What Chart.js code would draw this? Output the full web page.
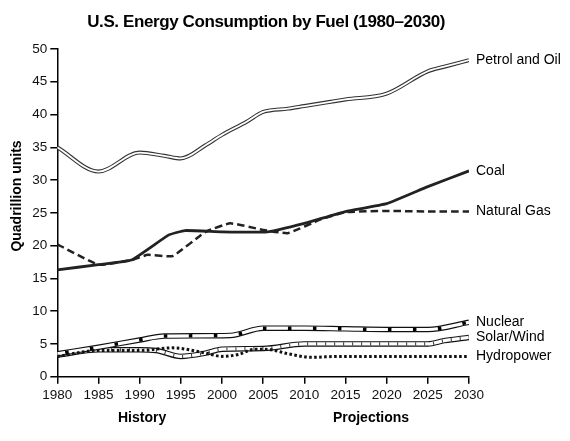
<!DOCTYPE html>
<html>
<head>
<meta charset="utf-8">
<script src="https://cdn.jsdelivr.net/npm/chart.js@4"></script>
<style>
  html, body { margin: 0; padding: 0; background: #fff; }
  canvas { display: block; }
</style>
</head>
<body>
<canvas id="c" width="570" height="441"></canvas>
<script>
// ---- Data (quadrillion units) ----
const petrolYears  = [1980, 1985, 1990, 1993, 1995, 1998, 2000, 2003, 2005, 2008, 2010, 2013, 2015, 2020, 2025, 2027, 2030];
const petrolValues = [35.0, 31.3, 34.2, 33.7, 33.3, 35.3, 36.9, 38.9, 40.4, 40.9, 41.3, 41.9, 42.3, 43.2, 46.6, 47.3, 48.3];

const coalYears  = [1980, 1985, 1989, 1993.5, 1995.5, 2000, 2005.5, 2010, 2015, 2020, 2025, 2030];
const coalValues = [16.3, 17.1, 17.8, 21.6, 22.3, 22.1, 22.1, 23.4, 25.2, 26.4, 29.0, 31.4];

const gasYears  = [1980, 1985, 1989, 1991, 1994, 1998, 2001, 2005, 2008, 2012, 2015, 2020, 2025, 2030];
const gasValues = [20.2, 17.1, 17.8, 18.6, 18.4, 22.1, 23.4, 22.4, 21.9, 24.0, 25.1, 25.3, 25.2, 25.2];

const nuclearYears  = [1980, 1985, 1990, 1993, 2001, 2005, 2010, 2015, 2020, 2025, 2030];
const nuclearValues = [3.5, 4.5, 5.6, 6.2, 6.3, 7.4, 7.4, 7.3, 7.2, 7.2, 8.3];

const solarYears  = [1980, 1985, 1990, 1992, 1995, 1998, 2000, 2005, 2010, 2015, 2020, 2025, 2027, 2030];
const solarValues = [3.3, 4.1, 4.1, 4.0, 3.1, 3.6, 4.2, 4.3, 5.0, 5.0, 5.0, 5.0, 5.5, 6.0];

const hydroYears  = [1980, 1985, 1990, 1994, 1998, 2000, 2002, 2004, 2006, 2008, 2011, 2014, 2030];
const hydroValues = [3.1, 4.0, 4.0, 4.4, 3.6, 3.1, 3.4, 4.2, 4.1, 3.5, 2.95, 3.1, 3.1];

const xTicks = [1980, 1985, 1990, 1995, 2000, 2005, 2010, 2015, 2020, 2025, 2030];
const yTicks = [0, 5, 10, 15, 20, 25, 30, 35, 40, 45, 50];

const seriesLabels = ["Petrol and Oil", "Coal", "Natural Gas", "Nuclear", "Solar/Wind", "Hydropower"];
const titleText = "U.S. Energy Consumption by Fuel (1980\u20132030)";
const yTitle = "Quadrillion units";
const periodLabels = ["History", "Projections"];

// ---- helpers ----
const pts = (xs, ys) => xs.map((x, i) => ({ x, y: ys[i] }));
const base = { pointRadius: 0, pointHoverRadius: 0, fill: false, cubicInterpolationMode: 'monotone', borderCapStyle: 'butt', borderJoinStyle: 'round' };
const ds = (label, xs, ys, extra) => Object.assign({ label, data: pts(xs, ys) }, base, extra);
const linear = { cubicInterpolationMode: 'default', tension: 0.12 };

const FONT = '"Liberation Sans", Arial, Helvetica, sans-serif';

const datasets = [
  ds('Solar/Wind', solarYears, solarValues, { borderColor: '#111', borderWidth: 5.5, order: 100 }),
  ds('Solar/Wind inner', solarYears, solarValues, { borderColor: '#fff', borderWidth: 3.2, order: 99 }),
  ds('Solar/Wind hatch', solarYears, solarValues, { borderColor: '#333', borderWidth: 3.2, borderDash: [1, 8], order: 98 }),
  ds('Nuclear', nuclearYears, nuclearValues, { borderColor: '#111', borderWidth: 5.5, order: 97 }),
  ds('Nuclear inner', nuclearYears, nuclearValues, { borderColor: '#fff', borderWidth: 3.2, order: 96 }),
  ds('Nuclear squares', nuclearYears, nuclearValues, { borderColor: '#000', borderWidth: 3.4, borderDash: [3.5, 21.5], borderDashOffset: -8, order: 95 }),
  ds('Hydropower', hydroYears, hydroValues, { borderColor: '#111', borderWidth: 3, borderDash: [2.6, 2.4], order: 94 }),
  ds('Natural Gas', gasYears, gasValues, Object.assign({ borderColor: '#222', borderWidth: 2.5, borderDash: [7.5, 4], order: 93 }, linear)),
  ds('Coal', coalYears, coalValues, Object.assign({ borderColor: '#222', borderWidth: 2.8, order: 92 }, linear)),
  ds('Petrol and Oil', petrolYears, petrolValues, { borderColor: '#333', borderWidth: 4, order: 91 }),
  ds('Petrol inner', petrolYears, petrolValues, { borderColor: '#fff', borderWidth: 1.8, order: 90 })
];

const lastVals = [petrolValues, coalValues, gasValues, nuclearValues, solarValues, hydroValues].map(a => a[a.length - 1]);

const textPlugin = {
  id: 'texts',
  afterDraw(chart) {
    const ctx = chart.ctx;
    const { x, y } = chart.scales;
    const area = chart.chartArea;
    ctx.save();
    ctx.fillStyle = '#000';
    // Title
    ctx.font = 'bold 17px ' + FONT;
    ctx.textAlign = 'center';
    ctx.textBaseline = 'alphabetic';
    try { ctx.letterSpacing = '-0.4px'; } catch (e) {}
    ctx.fillText(titleText, (area.left + area.right) / 2 + 3, 27);
    try { ctx.letterSpacing = '0px'; } catch (e) {}
    // Series labels
    ctx.font = '14px ' + FONT;
    ctx.textAlign = 'left';
    ctx.textBaseline = 'middle';
    seriesLabels.forEach((lab, i) => {
      ctx.fillText(lab, area.right + 7, y.getPixelForValue(lastVals[i]));
    });
    // Period labels
    ctx.font = 'bold 14px ' + FONT;
    ctx.textAlign = 'center';
    ctx.textBaseline = 'alphabetic';
    ctx.fillText(periodLabels[0], x.getPixelForValue(1990.3), 422);
    ctx.fillText(periodLabels[1], x.getPixelForValue(2018.1), 422);
    // Y title
    ctx.translate(17.5, 196);
    ctx.rotate(-Math.PI / 2);
    ctx.textBaseline = 'middle';
    ctx.fillText(yTitle, 0, 0);
    ctx.restore();
  }
};

const bgPlugin = {
  id: 'bg',
  beforeDraw(chart) {
    const ctx = chart.ctx;
    ctx.save();
    ctx.fillStyle = '#fff';
    ctx.fillRect(0, 0, chart.width, chart.height);
    ctx.restore();
  }
};

new Chart(document.getElementById('c'), {
  type: 'line',
  data: { datasets },
  options: {
    responsive: false,
    animation: false,
    devicePixelRatio: 1,
    layout: { padding: { left: 0, right: 101, top: 49, bottom: 0 } },
    plugins: { legend: { display: false }, tooltip: { enabled: false }, title: { display: false } },
    scales: {
      x: {
        type: 'linear',
        min: 1980, max: 2030,
        afterBuildTicks: (s) => { s.ticks = xTicks.map(v => ({ value: v })); },
        afterFit: (s) => { s.height = 64.3; },
        grid: { display: true, drawOnChartArea: false, drawTicks: true, tickLength: 7, color: '#000', lineWidth: 1.5 },
        border: { display: true, color: '#000', width: 1.5 },
        ticks: { color: '#111', font: { family: FONT, size: 13.5 }, padding: 3, maxRotation: 0, autoSkip: false, callback: v => String(v) }
      },
      y: {
        type: 'linear',
        min: 0, max: 50,
        afterBuildTicks: (s) => { s.ticks = yTicks.map(v => ({ value: v })); },
        afterFit: (s) => { s.width = 57.3; },
        grid: { display: true, drawOnChartArea: false, drawTicks: true, tickLength: 7, color: '#000', lineWidth: 1.5 },
        border: { display: true, color: '#000', width: 1.5 },
        ticks: { color: '#111', font: { family: FONT, size: 13.5 }, padding: 3, autoSkip: false, callback: v => String(v) }
      }
    }
  },
  plugins: [bgPlugin, textPlugin]
});
</script>
</body>
</html>
